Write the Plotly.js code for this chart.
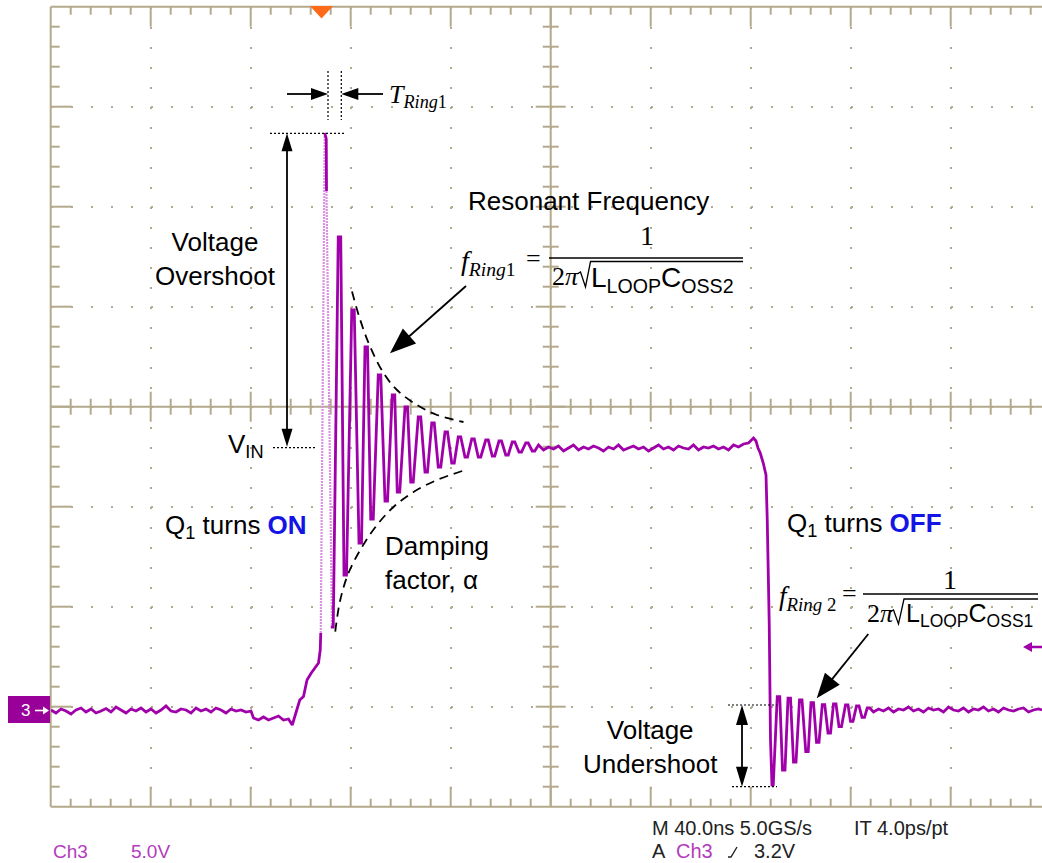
<!DOCTYPE html>
<html><head><meta charset="utf-8">
<script src="https://cdn.plot.ly/plotly-3.0.1.min.js"></script>
<style>html,body{margin:0;padding:0;background:#fff;overflow:hidden}</style>
</head><body><div id="chart" style="width:1042px;height:863px"></div>
<script>
// ---- waveform data: time in ns (40 ns/div), Ch3 voltage in V (5 V/div) ----
const baselineT = [0,2,4,6,8,10,12,14,16,18,20,22,24,26,28,30,32,34,36,38,40,42,44,46,48,50,52,54,56,58,60,62,64,66,68,70,72,74,76,78,80];
const baselineV = [0.05,-0.10,0.10,0.00,-0.15,0.05,0.15,-0.05,0.10,-0.10,
                   0.00,0.12,-0.05,0.20,0.05,-0.10,0.10,0.00,0.15,-0.05,
                   0.10,-0.10,0.05,0.25,0.00,-0.05,0.10,0.05,-0.10,0.15,
                   0.00,0.10,-0.05,0.15,0.05,-0.10,0.10,0.00,0.05,-0.05,
                   0.00];
const dipT = [81,83,85,87,89,91,93,95,96.5];
const dipV = [-0.35,-0.45,-0.30,-0.45,-0.35,-0.25,-0.45,-0.40,-0.70];
const riseT = [98.0,99.5,101.0,102.4,104.1,105.7,107.0,107.7,107.9];
const riseV = [-0.10,0.55,0.72,1.55,1.90,2.20,2.40,3.05,3.90];
const edgeT = [107.9,109.5,null,110.2,112.4];
const edgeV = [3.90,28.9,null,26.0,4.2];
const peak1T = [109.5,110.1,110.2];
const peak1V = [28.9,28.6,26.0];
// turn-on ringing: each extreme read as a short dwell (start, end)
const ringT = [111.9,112.9, 114.9,115.9, 117.2,118.2, 120.3,121.3, 123.2,124.2, 125.6,126.6, 127.9,128.9,
               130.9,131.9, 133.6,134.6, 136.5,137.5, 138.5,139.5, 141.6,142.6, 143.9,144.9, 146.9,147.9,
               149.6,150.6, 152.3,153.3, 154.9,155.9, 157.6,158.6, 160.3,161.3, 162.9,163.9, 165.6,166.6,
               168.3,169.3, 170.9,171.9, 173.9,174.9, 176.5,177.5, 179.2,180.2, 181.9,182.9, 184.5,185.5,
               187.2,188.2, 189.9,190.9, 192.5,193.5];
const ringV = [4.2,4.2, 23.7,23.7, 6.8,6.8, 20.05,20.05, 8.4,8.4, 18.2,18.2, 9.6,9.6,
               16.8,16.8, 10.5,10.5, 15.8,15.8, 10.95,10.95, 15.2,15.2, 11.45,11.45, 14.7,14.7,
               11.95,11.95, 14.4,14.4, 12.2,12.2, 13.95,13.95, 12.4,12.4, 13.7,13.7, 12.7,12.7,
               13.6,13.6, 12.7,12.7, 13.55,13.55, 12.75,12.75, 13.5,13.5, 12.8,12.8, 13.45,13.45,
               12.95,12.95, 13.4,13.4, 13.0,13.0];
const plateauT = [195,197,199,201,203,205,207,209,211,213,215,217,219,221,223,225,227,229,231,233,235,237,239,241,243,245,247,249,251,253,255,257,259,261,263,265,267,269,271,273,275,277,279];
const plateauV = [13.30,13.05,13.20,13.10,13.25,13.00,13.15,13.30,13.05,13.20,
                  13.10,13.25,13.15,13.00,13.20,13.10,13.30,13.05,13.15,13.25,
                  13.10,13.20,13.00,13.15,13.30,13.10,13.20,13.05,13.25,13.15,
                  13.10,13.30,13.05,13.20,13.15,13.25,13.10,13.20,13.05,13.30,
                  13.20,13.35,13.40];
const turnOffT = [281.0,282.0,282.8,283.7,284.9,286.0,286.5,287.3,287.8,288.4,288.9];
const turnOffV = [13.65,13.50,13.15,12.90,12.40,11.80,9.55,4.30,-1.45,-3.75,-3.70];
const undershootT = [290.5,291.5, 292.6,293.6, 294.8,295.8, 297.0,298.0, 299.4,300.4, 301.9,302.9, 304.0,305.0,
                     306.2,307.2, 308.5,309.5, 310.8,311.8, 313.0,314.0, 315.2,316.2, 317.8,318.8, 319.8,320.8,
                     322.2,323.2, 324.4,325.4, 326.5,327.5];
const undershootV = [0.72,0.72, -2.95,-2.95, 0.64,0.64, -2.55,-2.55, 0.55,0.55, -2.03,-2.03, 0.42,0.42,
                     -1.57,-1.57, 0.32,0.32, -1.10,-1.10, 0.35,0.35, -0.78,-0.78, 0.30,0.30, -0.52,-0.52,
                     0.25,0.25, -0.32,-0.32, 0.15,0.15];
const tailT = [329,331,333,335,337,339,341,343,345,347,349,351,353,355,357,359,361,363,365,367,369,371,373,375,377,379,381,383,385,387,389,391,393,395,396.4];
const tailV = [-0.05,0.10,0.00,0.15,-0.05,0.10,0.05,0.20,0.00,0.10,
               -0.05,0.15,0.05,0.10,-0.05,0.20,0.05,0.00,0.15,-0.05,
               0.10,0.05,0.20,0.00,0.10,-0.05,0.15,0.05,0.00,0.10,
               0.15,-0.05,0.05,0.10,0.05];
// dashed envelope of the turn-on ringing
const envUpperT = [120.4,123.7,127.7,133.0,138.4,146.4,154.4,165.0];
const envUpperV = [20.97,19.55,18.2,16.9,16.05,15.3,14.8,14.45];
const envLowerT = [113.7,115.7,119.0,124.4,130.4,137.0,145.0,154.4,165.7];
const envLowerV = [3.97,5.55,6.9,8.2,9.3,10.2,10.95,11.55,12.05];

// ---- page geometry (pixels) ----
const ML = 51, MT = 7, PW = 991, PH = 800;
const PX = p => (p - ML) / PW;
const PY = p => (MT + PH - p) / PH;
const TAN = '#b3a98c';
const PURPLE = '#a000aa';

const shapes = [];
function seg(x0, y0, x1, y1, color, width, dash, layer) {
  shapes.push({type:'line', xref:'paper', yref:'paper', x0:PX(x0), y0:PY(y0), x1:PX(x1), y1:PY(y1),
    line:{color:color, width:width, dash:dash || 'solid'}, layer:layer || 'above'});
}
function poly(pts, fill, layer) {
  shapes.push({type:'path', xref:'paper', yref:'paper',
    path:'M' + pts.map(p => PX(p[0]) + ',' + PY(p[1])).join('L') + 'Z',
    fillcolor:fill, line:{width:0}, layer:layer || 'above'});
}
function pline(pts, color, width) {
  shapes.push({type:'path', xref:'paper', yref:'paper',
    path:'M' + pts.map(p => PX(p[0]) + ',' + PY(p[1])).join('L'),
    line:{color:color, width:width}, layer:'above'});
}
function arrow(x0, y0, x1, y1, len, wid, color, w) {
  color = color || '#000';
  const dx = x1 - x0, dy = y1 - y0, d = Math.hypot(dx, dy), ux = dx / d, uy = dy / d;
  const bx = x1 - ux * len, by = y1 - uy * len;
  seg(x0, y0, bx + ux, by + uy, color, w || 1.8);
  poly([[x1, y1], [bx - uy * wid / 2, by + ux * wid / 2], [bx + uy * wid / 2, by - ux * wid / 2]], color);
}

// ---- graticule: border, centre cross, ticks ----
const X0 = 50.7, Y0 = 6.7, Y1 = 806.7, XC = 550.7, YC = 406.7;
seg(X0, Y0, X0, Y1, TAN, 2, null, 'below');
seg(X0, Y0, 1042, Y0, TAN, 2, null, 'below');
seg(X0, Y1, 1042, Y1, TAN, 2, null, 'below');
seg(X0, YC, 1042, YC, TAN, 2, null, 'below');
seg(XC, Y0, XC, Y1, TAN, 2, null, 'below');
for (let k = 1; X0 + 20 * k < 1042; k++) {
  const x = X0 + 20 * k, major = k % 5 === 0;
  seg(x, Y0, x, Y0 + (major ? 20 : 8), TAN, 2, null, 'below');
  seg(x, Y1, x, Y1 - (major ? 20 : 8), TAN, 2, null, 'below');
  seg(x, YC - (major ? 15 : 8), x, YC + (major ? 15 : 8), TAN, 2, null, 'below');
}
for (let k = 1; k < 40; k++) {
  const y = Y0 + 20 * k, major = k % 5 === 0;
  seg(X0, y, X0 + (major ? 21 : 9), y, TAN, 2, null, 'below');
  seg(XC - (major ? 15 : 8), y, XC + (major ? 15 : 8), y, TAN, 2, null, 'below');
}

// ---- scope markers ----
poly([[310, 6], [333, 6], [321.5, 18.5]], '#ff6a1a');                 // trigger position
poly([[8, 696], [50, 696], [50, 723], [8, 723]], '#990099');          // Ch3 ground marker box
seg(35, 710.5, 44, 710.5, '#ffffff', 1.6);
poly([[49, 710.5], [43, 706.5], [43, 714.5]], '#ffffff');
seg(1030, 647, 1042, 647, PURPLE, 2.5);                               // trigger level
poly([[1023, 647], [1032, 642], [1032, 652]], PURPLE);
pline([[728, 857], [731, 857], [737, 847]], '#222', 1.4);             // rising edge glyph

// ---- annotation lines and arrows ----
const DOT = '2px,2px';
seg(270, 133.3, 344, 133.3, '#000', 1.2, DOT);      // peak level
seg(273, 447.7, 315, 447.7, '#000', 1.2, DOT);      // VIN level
seg(328, 71, 328, 120, '#000', 1.2, DOT);           // T ring markers
seg(341.3, 71, 341.3, 120, '#000', 1.2, DOT);
seg(728, 705, 777, 705, '#000', 1.2, DOT);          // undershoot levels
seg(732, 786.7, 777, 786.7, '#000', 1.2, DOT);
arrow(287, 94, 328, 94, 17, 12);
arrow(383, 94, 341.3, 94, 17, 12);
arrow(287, 290, 287, 133.3, 18, 11);
arrow(287, 290, 287, 446.7, 18, 11);
arrow(742, 745, 742, 705, 20, 12);
arrow(742, 745, 742, 786.7, 20, 12);
arrow(466, 286, 390, 353.3, 26, 20);
arrow(868.3, 634, 816.7, 698.3, 25, 19);
// fraction bars and radicals
seg(549, 258, 743, 258, '#000', 1.5);
pline([[577, 274], [580.5, 272], [585.5, 287], [590.5, 261.5], [743, 261.5]], '#000', 1.3);
seg(863, 594, 1038, 594, '#000', 1.5);
pline([[890, 612], [893.5, 610], [898.5, 624], [904, 599], [1038, 599]], '#000', 1.3);

// ---- text ----
const SANS = 'Liberation Sans, Arial, sans-serif';
const SERIF = 'Liberation Serif, Times New Roman, serif';
const ann = [];
function txt(text, x, y, o) {
  ann.push(Object.assign({text:text, xref:'paper', yref:'paper', x:PX(x), y:PY(y), showarrow:false,
    xanchor:'center', yanchor:'middle', align:'center',
    font:{family:SANS, size:26, color:'#000'}}, o || {}));
}
const BLUE = '#1414e6';
txt('Voltage<br>Overshoot', 215, 259);
txt('Resonant Frequency', 588, 201);
txt('V<sub>IN</sub>', 226, 445, {xanchor:'left'});
txt('Q<sub>1</sub> turns <b><span style="color:' + BLUE + '">ON</span></b>', 163, 526, {xanchor:'left'});
txt('Damping<br>factor, α', 383, 563, {xanchor:'left', align:'left'});
txt('Q<sub>1</sub> turns <b><span style="color:' + BLUE + '">OFF</span></b>', 785, 524, {xanchor:'left'});
txt('Voltage<br>Undershoot', 650, 747);
txt('<i>T</i><sub><i>Ring</i>1</sub>', 387, 96, {xanchor:'left', font:{family:SERIF, size:26, color:'#000'}});
// f_Ring1
txt('<i>f</i><sub><i>Ring</i>1</sub>', 459, 262, {xanchor:'left', font:{family:SERIF, size:28, color:'#000'}});
txt('=', 533, 258, {font:{family:SERIF, size:26, color:'#000'}});
txt('1', 647, 235, {font:{family:SERIF, size:28, color:'#000'}});
txt('2<i>π</i>', 550, 276, {xanchor:'left', font:{family:SERIF, size:26, color:'#000'}});
txt('L<sub>LOOP</sub>C<sub>OSS2</sub>', 589, 279, {xanchor:'left', font:{family:SANS, size:28, color:'#000'}});
// f_Ring2
txt('<i>f</i><sub><i>Ring</i> 2</sub>', 777, 598, {xanchor:'left', font:{family:SERIF, size:27, color:'#000'}});
txt('=', 849, 593, {font:{family:SERIF, size:26, color:'#000'}});
txt('1', 950, 579, {font:{family:SERIF, size:28, color:'#000'}});
txt('2<i>π</i>', 865, 613, {xanchor:'left', font:{family:SERIF, size:26, color:'#000'}});
txt('L<sub>LOOP</sub>C<sub>OSS1</sub>', 904, 615, {xanchor:'left', font:{family:SANS, size:25, color:'#000'}});
// scope readouts
const CH = '#b23cbc';
txt('3', 25, 710, {font:{family:SANS, size:17, color:'#ffffff'}});
txt('Ch3', 51, 851, {xanchor:'left', font:{family:SANS, size:19, color:CH}});
txt('5.0V', 129, 851, {xanchor:'left', font:{family:SANS, size:19, color:CH}});
txt('M 40.0ns 5.0GS/s', 650, 828, {xanchor:'left', font:{family:SANS, size:20, color:'#222'}});
txt('IT 4.0ps/pt', 852, 828, {xanchor:'left', font:{family:SANS, size:20, color:'#222'}});
txt('A', 650, 851, {xanchor:'left', font:{family:SANS, size:20, color:'#222'}});
txt('Ch3', 674, 851, {xanchor:'left', font:{family:SANS, size:20, color:CH}});
txt('3.2V', 752, 851, {xanchor:'left', font:{family:SANS, size:20, color:'#222'}});

// ---- traces ----
const mainT = [].concat(baselineT, dipT, riseT, [null], peak1T, [null], ringT, plateauT, turnOffT, undershootT, tailT);
const mainV = [].concat(baselineV, dipV, riseV, [null], peak1V, [null], ringV, plateauV, turnOffV, undershootV, tailV);
const traces = [
  {x:edgeT, y:edgeV, type:'scatter', mode:'lines', line:{color:'#dc90e4', width:2.2, dash:'2px,1px'}, hoverinfo:'skip'},
  {x:mainT, y:mainV, type:'scatter', mode:'lines', line:{color:PURPLE, width:2.8}, hoverinfo:'skip'},
  {x:envUpperT, y:envUpperV, type:'scatter', mode:'lines', line:{color:'#000', width:1.8, dash:'9px,6px', shape:'spline'}, hoverinfo:'skip'},
  {x:envLowerT, y:envLowerV, type:'scatter', mode:'lines', line:{color:'#000', width:1.8, dash:'9px,6px', shape:'spline'}, hoverinfo:'skip'}
];

const axisCommon = {showticklabels:false, ticks:'', zeroline:false, showline:false,
  showgrid:true, gridcolor:TAN, gridwidth:2, griddash:'2px,18px', fixedrange:true};
const layout = {
  width:1042, height:863, margin:{l:ML, r:0, t:MT, b:863 - MT - PH, pad:0},
  paper_bgcolor:'#ffffff', plot_bgcolor:'#ffffff', showlegend:false,
  xaxis:Object.assign({range:[0, 396.4], tick0:0, dtick:40}, axisCommon),
  yaxis:Object.assign({range:[-4.8, 35.2], tick0:0.2, dtick:5}, axisCommon),
  shapes:shapes, annotations:ann
};
Plotly.newPlot('chart', traces, layout, {displayModeBar:false, staticPlot:true});
</script></body></html>
